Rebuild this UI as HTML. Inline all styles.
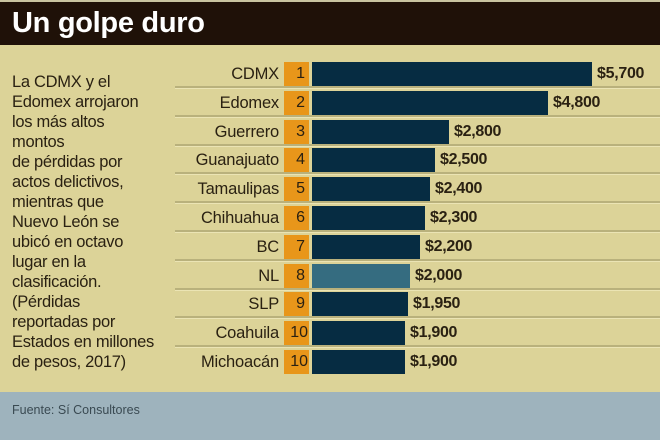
<!DOCTYPE html>
<html><head><meta charset="utf-8"><style>
body{margin:0;width:660px;height:440px;overflow:hidden;background:#dcd398;font-family:"Liberation Sans",sans-serif;position:relative}
.top{position:absolute;left:0;top:0;width:660px;height:2px;background:#c9c4a0}
.title{position:absolute;left:0;top:2px;width:660px;height:43px;background:#1f1108;color:#fff;font-weight:bold;font-size:29px;line-height:43px;padding-left:12px;box-sizing:border-box;letter-spacing:-0.3px}
.para{position:absolute;left:12px;top:72px;font-size:16.5px;line-height:20px;color:#2a2112;letter-spacing:-0.3px}
.row{position:absolute;left:0;width:660px;height:24px}
.lab{position:absolute;right:381px;top:0;line-height:24px;font-size:16.5px;color:#2a2112;white-space:nowrap;letter-spacing:-0.2px}
.num{position:absolute;left:284px;width:25px;top:0;height:24px;background:#e8961a;color:#2a2112;font-size:16px;line-height:24px;text-align:right;padding-right:4px;box-sizing:border-box}
.bar{position:absolute;left:312px;top:0;height:24px;background:#062c42}
.val{position:absolute;top:0;line-height:24px;font-size:16px;font-weight:bold;color:#2a2112;letter-spacing:-0.3px}
.sep{position:absolute;left:175px;width:485px;height:2px;background:#b9b17c;border-bottom:1px solid #ebe4b4}
.foot{position:absolute;left:0;top:392px;width:660px;height:48px;background:#9eb3bd;color:#3a4a52;font-size:12.5px;padding:11px 0 0 12px;box-sizing:border-box}
</style></head><body>
<div class="top"></div>
<div class="title">Un golpe duro</div>
<div class="para">La CDMX y el<br>Edomex arrojaron<br>los más altos<br>montos<br>de pérdidas por<br>actos delictivos,<br>mientras que<br>Nuevo León se<br>ubicó en octavo<br>lugar en la<br>clasificación.<br>(Pérdidas<br>reportadas por<br>Estados en millones<br>de pesos, 2017)</div>

<div class="row" style="top:62px"><span class="lab">CDMX</span><span class="num">1</span><span class="bar" style="width:280px"></span><span class="val" style="left:597px">$5,700</span></div>
<div class="sep" style="top:86px"></div>
<div class="row" style="top:90.8px"><span class="lab">Edomex</span><span class="num">2</span><span class="bar" style="width:236px"></span><span class="val" style="left:553px">$4,800</span></div>
<div class="sep" style="top:114.8px"></div>
<div class="row" style="top:119.6px"><span class="lab">Guerrero</span><span class="num">3</span><span class="bar" style="width:137px"></span><span class="val" style="left:454px">$2,800</span></div>
<div class="sep" style="top:143.6px"></div>
<div class="row" style="top:148.4px"><span class="lab">Guanajuato</span><span class="num">4</span><span class="bar" style="width:123px"></span><span class="val" style="left:440px">$2,500</span></div>
<div class="sep" style="top:172.4px"></div>
<div class="row" style="top:177.2px"><span class="lab">Tamaulipas</span><span class="num">5</span><span class="bar" style="width:118px"></span><span class="val" style="left:435px">$2,400</span></div>
<div class="sep" style="top:201.2px"></div>
<div class="row" style="top:206px"><span class="lab">Chihuahua</span><span class="num">6</span><span class="bar" style="width:113px"></span><span class="val" style="left:430px">$2,300</span></div>
<div class="sep" style="top:230px"></div>
<div class="row" style="top:234.8px"><span class="lab">BC</span><span class="num">7</span><span class="bar" style="width:108px"></span><span class="val" style="left:425px">$2,200</span></div>
<div class="sep" style="top:258.8px"></div>
<div class="row" style="top:263.6px"><span class="lab">NL</span><span class="num">8</span><span class="bar" style="width:98px;background:#356c80"></span><span class="val" style="left:415px">$2,000</span></div>
<div class="sep" style="top:287.6px"></div>
<div class="row" style="top:292.4px"><span class="lab">SLP</span><span class="num">9</span><span class="bar" style="width:96px"></span><span class="val" style="left:413px">$1,950</span></div>
<div class="sep" style="top:316.4px"></div>
<div class="row" style="top:321.2px"><span class="lab">Coahuila</span><span class="num" style="padding-right:1px">10</span><span class="bar" style="width:93px"></span><span class="val" style="left:410px">$1,900</span></div>
<div class="sep" style="top:345.2px"></div>
<div class="row" style="top:350px"><span class="lab">Michoacán</span><span class="num" style="padding-right:1px">10</span><span class="bar" style="width:93px"></span><span class="val" style="left:410px">$1,900</span></div>

<div class="foot">Fuente: Sí Consultores</div>
</body></html>
